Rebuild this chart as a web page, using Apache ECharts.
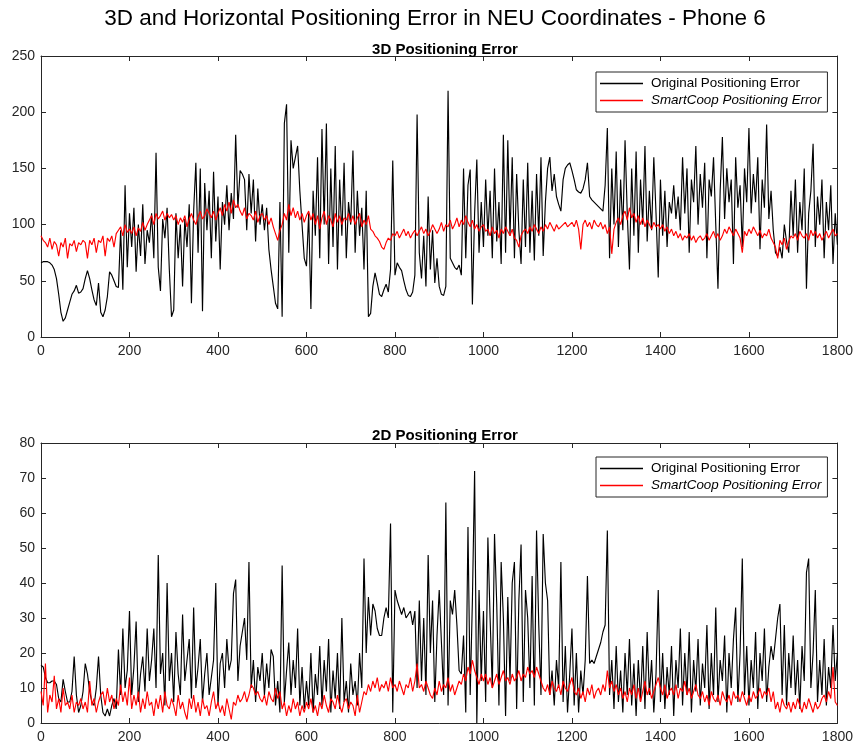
<!DOCTYPE html>
<html>
<head>
<meta charset="utf-8">
<script src="https://cdn.jsdelivr.net/npm/echarts@6/dist/echarts.min.js"></script>
<style>
html,body{margin:0;padding:0;background:#fff;}
#chart{width:856px;height:746px;}
</style>
</head>
<body>
<div id="chart"></div>
<script>
const xTicks = [0, 200, 400, 600, 800, 1000, 1200, 1400, 1600, 1800];
const yTicks3d = [0, 50, 100, 150, 200, 250];
const yTicks2d = [0, 10, 20, 30, 40, 50, 60, 70, 80];
const legendLabels = ['Original Positioning Error', 'SmartCoop Positioning Error'];

const err3dOrig = [
66,67,67,67,66,64,60,52,38,22,14,17,24,31,38,41,46,39,40,43,
52,59,52,42,33,28,48,22,18,24,36,58,55,50,45,44,95,42,135,62,
110,80,115,58,100,72,118,65,95,84,110,70,164,62,41,105,88,115,60,18,
24,110,70,100,45,105,80,118,30,112,155,75,150,23,137,95,130,70,147,85,
125,60,120,100,135,95,128,105,180,115,148,145,140,95,145,110,140,85,132,100,
118,95,115,78,60,45,30,25,120,18,190,207,75,175,150,160,170,130,100,70,
63,110,25,130,90,160,70,185,100,190,65,150,80,170,60,140,90,155,70,120,
100,166,75,130,90,115,60,130,18,21,45,57,48,38,36,42,47,40,60,157,
55,66,62,59,50,42,37,36,40,55,198,75,52,90,45,125,60,95,48,70,
45,38,37,45,219,70,66,62,60,64,55,150,70,135,149,29,110,158,75,120,
80,140,90,130,70,150,85,120,65,180,75,175,90,160,70,145,95,65,140,80,
155,75,130,68,145,90,160,72,120,150,160,130,145,125,118,112,140,150,153,155,
148,140,131,129,128,132,140,155,125,122,120,118,116,114,112,135,186,70,150,100,
165,80,140,95,175,110,60,150,90,165,75,140,100,170,85,130,95,160,110,53,
140,90,130,80,120,110,135,105,125,95,160,110,150,75,140,120,170,100,145,115,
155,70,140,125,160,100,43,130,178,105,150,120,140,65,160,115,135,80,150,120,
186,110,145,120,160,78,140,115,189,105,130,95,75,72,80,70,100,85,75,130,
90,140,75,120,95,150,43,110,130,172,80,125,100,140,70,120,95,135,65,110,
82];

const err3dCoop = [
90,86,84,80,88,78,85,82,72,84,80,88,70,83,81,86,76,84,82,86,
84,70,86,82,88,75,86,84,90,72,88,85,90,80,92,95,98,90,100,93,
96,92,98,90,97,94,102,95,100,104,108,100,110,105,108,112,104,110,106,109,
104,108,100,106,102,108,98,105,110,104,100,107,112,105,108,114,110,106,112,104,
110,115,108,118,112,120,110,122,115,118,112,108,115,105,110,108,104,112,102,108,
110,104,108,100,106,98,92,86,95,100,110,104,118,108,115,106,112,104,110,102,
108,112,104,110,100,108,96,106,112,100,108,104,98,110,102,108,100,106,104,110,
102,108,100,106,110,98,104,100,108,96,94,90,88,85,80,78,84,88,86,92,
90,94,88,92,96,90,94,88,92,95,90,94,98,92,96,90,94,100,96,92,
96,102,94,100,98,104,96,100,106,98,104,100,108,102,98,104,96,100,94,98,
100,94,96,90,98,92,95,88,96,92,98,94,90,96,88,86,80,90,94,96,
92,98,94,100,96,92,98,94,100,96,102,98,94,100,96,98,100,102,98,100,
102,98,104,96,78,100,104,98,102,96,104,100,98,102,96,100,92,98,74,96,
102,106,100,108,112,104,115,106,110,102,108,100,106,98,104,100,96,102,98,100,
96,100,94,98,92,96,90,94,88,92,86,90,88,92,86,90,84,88,90,86,
88,92,86,90,94,88,92,86,90,96,92,98,94,90,96,92,88,75,94,90,
96,92,98,94,90,95,88,92,90,96,88,84,80,70,86,82,88,78,85,90,
88,92,86,94,90,88,92,86,95,90,94,88,92,86,90,94,88,92,96,90,
92];

const err2dOrig = [
16.5,16,13,11.5,11.5,12,12,11,7,6,12.5,9,6,6,9,19,8,3,5,9,
17,14,9,6,5,10,19,8,3,2,4,2,5,7,4,21,8,27,10,15,
32,8,16,29,6,14,19,9,27,12,18,27,10,48,14,20,5,40,12,20,
6,26,14,8,31,12,18,24,7,33,10,16,24,6,14,20,8,13,18,40,
5,17,20,10,24,15,18,37,41,12,22,26,30,18,46,10,18,6,16,12,
20,8,17,10,21,19,5,12,3,45,6,15,23,8,18,10,27,5,16,4,
12,5,20,3,14,8,22,5,18,9,24,3,15,7,20,4,30,6,12,3,
17,8,12,5,20,10,47,20,36,25,34,32,27,25,25,30,33,30,57,3,
38,35,33,31,33,30,31,32,28,32,10,35,12,30,8,48,20,35,6,25,
38,23,8,63,5,35,31,38,28,15,14,25,3,56,8,35,72,0,38,12,
32,6,53,30,10,54,34,5,46,30,2,36,12,40,46,4,35,51,6,38,
30,10,42,5,55,28,8,54,40,35,8,15,5,18,10,46,6,22,3,14,
27,5,20,3,15,8,18,42,17,18,17,19,21,23,26,28,55,8,18,4,
22,6,15,3,20,8,24,5,17,2,18,6,22,4,26,8,18,3,14,38,
6,20,4,16,8,22,2,18,10,27,5,20,8,26,3,18,9,24,5,17,
10,28,4,20,8,33,6,18,12,25,3,20,10,24,33,6,20,47,8,22,
5,18,10,26,4,20,12,27,6,16,22,18,24,30,34,8,28,5,20,10,
25,8,18,4,22,12,43,47,10,20,38,6,18,8,24,5,16,10,28,12,
20];

const err2dCoop = [
9,5,17,3,8,6,13.5,4,7,3,10,5,6,4,8,3,6,5,7,4,
6,3,12,5,7,3,6,8,9,5,10,6,8,4,7,5,11,6,9,5,
13,4,8,5,9,3,7,4,9,5,6,2,7,4,8,3,9,5,4,7,
5,2,8,4,6,3,1,7,4,8,3,6,2,7,4,5,2,6,9,4,
6,3,5,2,7,4,1,6,5,8,6,7,9,6,8,11,10,8,9,7,
6,8,5,9,7,6,10,7,9,4,6,2,5,3,7,4,6,2,5,3,
6,4,7,3,5,2,6,4,8,5,3,7,6,4,8,5,3,6,7,4,
6,5,2,8,3,6,9,8,11,9,12,10,13,9,11,10,12,9,13,10,
11,9,12,10,8,11,10,13,9,12,17,10,11,9,12,10,8,7,10,8,
12,9,11,10,13,9,11,8,10,12,11,14,12,16,14,18,15,13,11,14,
12,14,11,13,10,12,14,11,13,15,12,13,11,14,12,13,15,12,14,13,
16,14,15,13,16,14,12,10,9,11,8,12,10,9,11,8,12,10,9,11,
13,9,8,10,7,9,6,10,8,11,7,9,10,8,11,9,15,10,12,9,
11,8,10,7,9,6,10,8,11,7,10,6,9,12,8,10,7,9,11,13,
10,8,11,7,9,10,8,11,7,10,9,12,8,10,7,9,11,8,7,9,
6,8,5,9,7,6,8,5,9,7,6,8,5,9,7,8,6,9,7,5,
8,6,9,7,8,10,7,9,8,10,6,9,4,6,3,7,5,4,6,3,
6,4,7,5,3,6,4,7,5,3,6,4,5,7,8,6,9,7,16,6,
5];

const sampleStep = 5;
const time = err3dOrig.map((_, i) => i * sampleStep);
const seriesColors = ['#000000', '#ff0000'];

// ---- Chart ----
const FONT = '"Liberation Sans", Arial, Helvetica, sans-serif';
const AX = '#262626';
const pair = arr => arr.map((v, i) => [time[i], v]);
const ids = {top: ['orig3d', 'coop3d'], bottom: ['orig2d', 'coop2d']};
const labelOf = id => (id.indexOf('orig') === 0 ? legendLabels[0] : legendLabels[1]);

function xAx(gridIndex, pos) {
  return {
    type: 'value', gridIndex, position: pos,
    min: xTicks[0], max: xTicks[xTicks.length - 1], interval: xTicks[1] - xTicks[0],
    axisLine: {show: true, onZero: false, lineStyle: {color: AX, width: 1}},
    axisTick: {show: true, inside: true, length: 5, lineStyle: {color: AX}},
    axisLabel: {show: pos === 'bottom', color: AX, fontSize: 14, fontFamily: FONT, margin: 7,
                formatter: v => String(v)},
    splitLine: {show: false}
  };
}
function yAx(gridIndex, pos, ticks) {
  return {
    type: 'value', gridIndex, position: pos,
    min: ticks[0], max: ticks[ticks.length - 1], interval: ticks[1] - ticks[0],
    axisLine: {show: true, onZero: false, lineStyle: {color: AX, width: 1}},
    axisTick: {show: true, inside: true, length: 5, lineStyle: {color: AX}},
    axisLabel: {show: pos === 'left', color: AX, fontSize: 14, fontFamily: FONT, margin: 6,
                formatter: v => String(v)},
    splitLine: {show: false}
  };
}
function legendFor(top, names) {
  return {
    data: names.map((n, i) => ({name: n, icon: 'rect',
      itemStyle: {color: seriesColors[i], borderWidth: 0}, lineStyle: {color: seriesColors[i]}})),
    orient: 'vertical', left: 596, top,
    itemWidth: 43, itemHeight: 1.5, itemGap: 4,
    padding: [5, 6, 5, 4],
    borderColor: AX, borderWidth: 1, backgroundColor: '#fff',
    selectedMode: false,
    textStyle: {fontSize: 13.4, color: '#000', fontFamily: FONT, padding: [0, 0, 0, 3],
      rich: {i: {fontStyle: 'italic', fontSize: 13.4, fontFamily: FONT, color: '#000'}}},
    formatter: name => name.indexOf('coop') === 0 ? '{i|' + labelOf(name) + '}' : labelOf(name)
  };
}
function line(name, xi, yi, data, color, z) {
  return {
    name, type: 'line', xAxisIndex: xi, yAxisIndex: yi, data,
    showSymbol: false, symbol: 'none', z,
    lineStyle: {color, width: 1.15}, itemStyle: {color},
    animation: false
  };
}

const chart = echarts.init(document.getElementById('chart'), null, {renderer: 'canvas'});
chart.setOption({
  backgroundColor: '#fff',
  animation: false,
  title: [
    {text: '3D and Horizontal Positioning Error in NEU Coordinates - Phone 6', left: 430, top: 2, textAlign: 'center',
     textStyle: {fontSize: 22.5, fontWeight: 'normal', color: '#000', fontFamily: FONT}},
    {text: '3D Positioning Error', left: 440, top: 37, textAlign: 'center',
     textStyle: {fontSize: 15, fontWeight: 'bold', color: '#000', fontFamily: FONT}},
    {text: '2D Positioning Error', left: 440, top: 423, textAlign: 'center',
     textStyle: {fontSize: 15, fontWeight: 'bold', color: '#000', fontFamily: FONT}}
  ],
  legend: [legendFor(72, ids.top), legendFor(457, ids.bottom)],
  grid: [
    {left: 41, top: 56, width: 797, height: 281},
    {left: 41, top: 443, width: 797, height: 280}
  ],
  xAxis: [xAx(0, 'bottom'), xAx(0, 'top'), xAx(1, 'bottom'), xAx(1, 'top')],
  yAxis: [yAx(0, 'left', yTicks3d), yAx(0, 'right', yTicks3d), yAx(1, 'left', yTicks2d), yAx(1, 'right', yTicks2d)],
  series: [
    line(ids.top[0], 0, 0, pair(err3dOrig), seriesColors[0], 2),
    line(ids.top[1], 0, 0, pair(err3dCoop), seriesColors[1], 3),
    line(ids.bottom[0], 2, 2, pair(err2dOrig), seriesColors[0], 2),
    line(ids.bottom[1], 2, 2, pair(err2dCoop), seriesColors[1], 3)
  ]
});
</script>
</body>
</html>
